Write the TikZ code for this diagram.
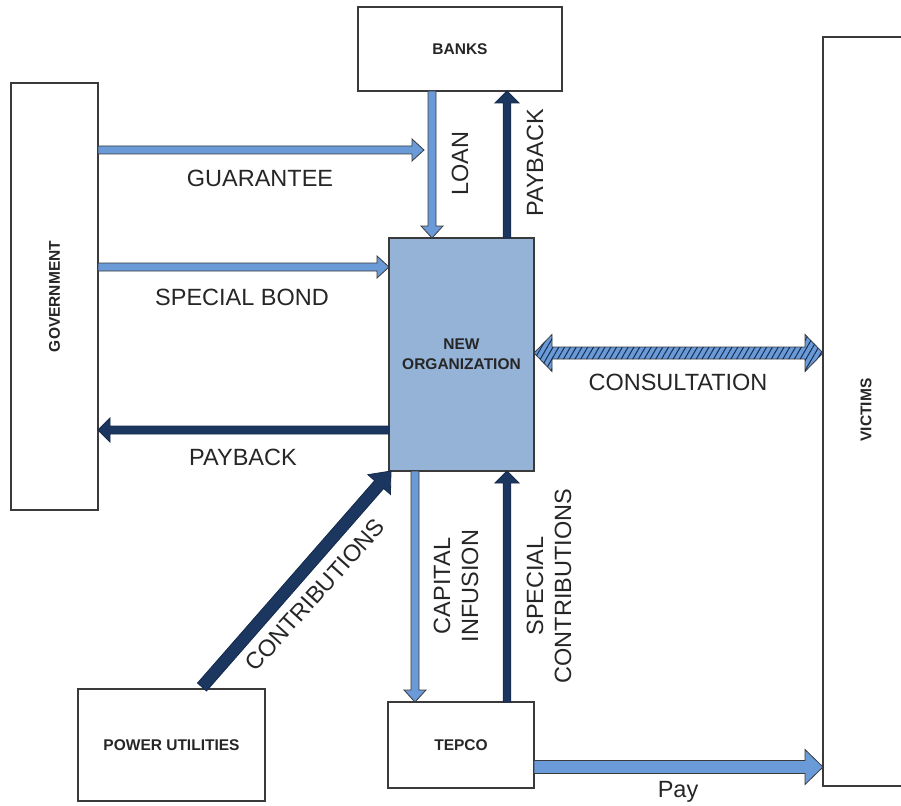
\documentclass[tikz,border=0pt]{standalone}
\usepackage{fontspec}
\setmainfont{Liberation Sans}
\usetikzlibrary{calc,patterns.meta}
\definecolor{lb}{HTML}{6A9BD8}
\definecolor{navy}{HTML}{1B365F}
\definecolor{orgfill}{HTML}{95B3D7}
\definecolor{edge}{HTML}{3A3A3A}
\definecolor{txt}{HTML}{262626}
% single fat arrow: [style]{from}{to}{half shaft}{half head}{head length}
\newcommand\fatarrow[6][]{%
  \coordinate (faB) at ($(#3)!#6!(#2)$);
  \draw[#1] ($(#2)!#4!90:(#3)$) -- ($(faB)!#4!90:(#3)$) -- ($(faB)!#5!90:(#3)$) -- (#3)
    -- ($(faB)!#5!-90:(#3)$) -- ($(faB)!#4!-90:(#3)$) -- ($(#2)!#4!-90:(#3)$) -- cycle;
}
% double fat arrow
\newcommand\fatdarrow[6][]{%
  \coordinate (faA) at ($(#2)!#6!(#3)$);
  \coordinate (faB) at ($(#3)!#6!(#2)$);
  \draw[#1] (#2) -- ($(faA)!#5!90:(#3)$) -- ($(faA)!#4!90:(#3)$) -- ($(faB)!#4!90:(#3)$)
    -- ($(faB)!#5!90:(#3)$) -- (#3) -- ($(faB)!#5!-90:(#3)$) -- ($(faB)!#4!-90:(#3)$)
    -- ($(faA)!#4!-90:(#3)$) -- ($(faA)!#5!-90:(#3)$) -- cycle;
}
\tikzset{
  boxtext/.style={inner sep=0pt, outer sep=0pt,
    font=\fontsize{15.5}{20}\selectfont\bfseries, text=txt, align=center},
  box/.style={boxtext, draw=edge, line width=1.1pt, fill=white},
  lbl/.style={font=\fontsize{23.5}{28}\selectfont, text=txt, inner sep=0pt, align=center},
  lightarr/.style={fill=lb, draw=edge, line width=0.8pt, line join=miter},
  darkarr/.style={fill=navy, draw=navy!80!black, line width=0.8pt, line join=miter},
  hatcharr/.style={fill=lb, draw=edge, line width=0.8pt, line join=miter,
    postaction={pattern={Lines[angle=60,distance=5pt,line width=1pt]}, pattern color=navy!85!black}}
}
\begin{document}
\begin{tikzpicture}[x=1pt,y=-1pt]
\useasboundingbox (0,0) rectangle (901,805);
% boxes
\node[box, minimum width=87pt, minimum height=427pt] (gov) at (54.5,296.5) {};
\node[boxtext, rotate=90] (govlbl) at (gov.center) {GOVERNMENT};
\node[box, minimum width=204pt, minimum height=84pt] (banks) at (460,49) {BANKS};
\node[box, fill=orgfill, minimum width=145pt, minimum height=233pt] (org) at (461.5,354.5) {NEW\\ORGANIZATION};
\node[box, minimum width=84pt, minimum height=749pt] (victims) at (865,411.5) {};
\node[boxtext, rotate=90] (viclbl) at (866,410) {VICTIMS};
\node[box, minimum width=146pt, minimum height=86pt] (tepco) at (461,745) {TEPCO};
\node[box, minimum width=187pt, minimum height=112pt] (power) at (171.5,745) {POWER UTILITIES};
% connector coordinates
\coordinate (g1) at ($(gov.north east)+(0,67)$);
\coordinate (g2) at (424,150);
\coordinate (s1) at ($(gov.north east)+(0,184)$);
\coordinate (s2) at ($(org.north west)+(0,29)$);
\coordinate (l1) at ($(banks.south west)+(74,0)$);
\coordinate (l2) at ($(org.north west)+(43,0)$);
\coordinate (pb1) at ($(org.north west)+(118,0)$);
\coordinate (pb2) at ($(banks.south west)+(149,0)$);
\coordinate (pg1) at ($(org.north west)+(0,192)$);
\coordinate (pg2) at ($(gov.north east)+(0,347)$);
\coordinate (c1) at ($(org.north east)+(0,115)$);
\coordinate (c2) at ($(victims.north west)+(0,316)$);
\coordinate (ct1) at ($(power.north west)+(124,-2)$);
\coordinate (ct2) at ($(org.south west)+(2,0)$);
\coordinate (ci1) at ($(org.south west)+(26,0)$);
\coordinate (ci2) at ($(tepco.north west)+(27,0)$);
\coordinate (sc1) at ($(tepco.north west)+(119,0)$);
\coordinate (sc2) at ($(org.south west)+(118,0)$);
\coordinate (p1) at ($(tepco.north east)+(0,65)$);
\coordinate (p2) at ($(victims.north west)+(0,730)$);
% arrows
\fatarrow[lightarr]{l1}{l2}{4pt}{11pt}{12pt}
\fatarrow[lightarr]{g1}{g2}{4pt}{11pt}{12pt}
\fatarrow[lightarr]{s1}{s2}{4pt}{11pt}{12pt}
\fatarrow[darkarr]{pb1}{pb2}{3.8pt}{12pt}{12pt}
\fatarrow[darkarr]{pg1}{pg2}{4pt}{12pt}{12pt}
\fatdarrow[hatcharr]{c1}{c2}{6pt}{18.5pt}{18pt}
\fatarrow[darkarr]{ct1}{ct2}{6pt}{15pt}{18pt}
\fatarrow[lightarr]{ci1}{ci2}{4pt}{11pt}{12pt}
\fatarrow[darkarr]{sc1}{sc2}{3.8pt}{12pt}{12pt}
\fatarrow[lightarr]{p1}{p2}{6.5pt}{17.5pt}{18pt}
% labels
\node[lbl] (tguar) at (260,178) {GUARANTEE};
\node[lbl] (tbond) at (242,297) {SPECIAL BOND};
\node[lbl] (tpbg) at (243,457) {PAYBACK};
\node[lbl, rotate=90] (tloan) at (460,164) {LOAN};
\node[lbl, rotate=90] (tpbb) at (535,163) {PAYBACK};
\node[lbl] (tcons) at (678,382) {CONSULTATION};
\node[lbl, rotate=48] (tcontr) at (315,595) {CONTRIBUTIONS};
\node[lbl, rotate=90] (tcap) at (456,586) {CAPITAL\\INFUSION};
\node[lbl, rotate=90] (tspc) at (549,586) {SPECIAL\\CONTRIBUTIONS};
\node[lbl] (tpay) at (678,792) {Pay};
\end{tikzpicture}
\end{document}
